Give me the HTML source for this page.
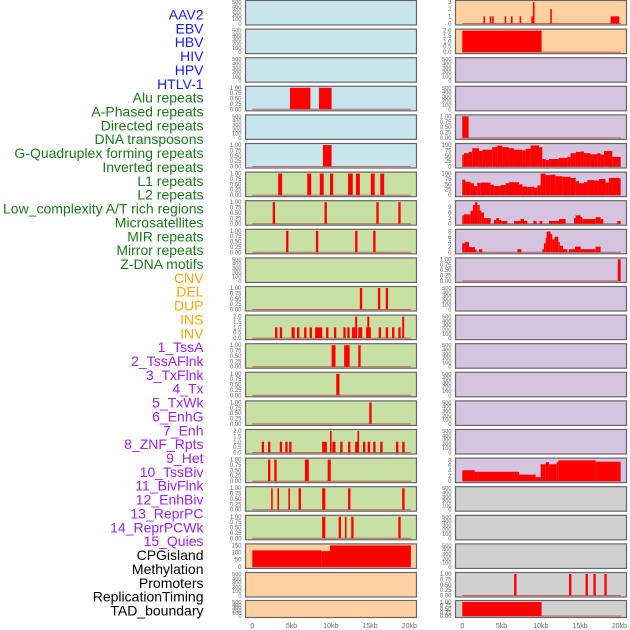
<!DOCTYPE html>
<html><head><meta charset="utf-8">
<style>
html,body{margin:0;padding:0;background:#fff;}
svg{display:block;font-family:"Liberation Sans",sans-serif;}
</style></head>
<body>
<svg id="chart" width="630" height="630" viewBox="0 0 630 630" xmlns="http://www.w3.org/2000/svg"></svg>
<script>
// ---- labels ----
const labelNames = ["AAV2","EBV","HBV","HIV","HPV","HTLV-1","Alu repeats","A-Phased repeats","Directed repeats","DNA transposons","G-Quadruplex forming repeats","Inverted repeats","L1 repeats","L2 repeats","Low_complexity A/T rich regions","Microsatellites","MIR repeats","Mirror repeats","Z-DNA motifs","CNV","DEL","DUP","INS","INV","1_TssA","2_TssAFlnk","3_TxFlnk","4_Tx","5_TxWk","6_EnhG","7_Enh","8_ZNF_Rpts","9_Het","10_TssBiv","11_BivFlnk","12_EnhBiv","13_ReprPC","14_ReprPCWk","15_Quies","CPGisland","Methylation","Promoters","ReplicationTiming","TAD_boundary"];
const labelGroups = [6,13,5,15,5];
const groupColors = ["#1a1aff","#1a7a1a","#ffa500","#a020f0","#000000"];
// tick labels
const xTickValues = [0,5,10,15,20];
const xTickLabels = ["0","5kb","10kb","15kb","20kb"];
const ticksEmpty = [0,100,200,300,400,500];
const ticks01 = [0,0.25,0.5,0.75,1];
const ticks02 = [0,0.5,1,1.5,2];
// ---- data (start kb, end kb, value) ----
const alu = [[4.8,7.4,1],[8.5,10.1,1]];
const gquad = [[9.0,10.1,1]];
const inverted = [[3.3,3.8,1],[7.0,7.5,1],[8.6,9.1,1],[9.9,10.3,1],[12.2,12.8,1],[13.2,13.7,1],[15.1,15.6,1],[16.3,16.8,1]];
const l2 = [[2.6,2.9,1],[9.2,9.5,1],[15.8,16.1,1],[18.6,18.9,1]];
const lowcx = [[4.3,4.6,1],[8.1,8.4,1],[13.1,13.4,1],[15.4,15.7,1]];
const mir = [[13.7,14.0,1],[16.0,16.3,1],[17.0,17.3,1]];
const mirror = [[2.9,3.2,1],[3.5,3.8,1],[5.0,5.4,1],[5.7,6.0,1],[6.6,6.9,1],[7.3,7.6,1],[8.0,8.9,1],[9.4,9.7,1],[10.4,10.7,1],[11.6,11.9,1],[12.1,12.4,1],[12.7,13.1,1],[13.1,13.35,2],[13.5,14.0,1],[14.5,15.1,1],[14.65,14.9,2],[16.1,16.4,1],[17.0,17.3,1],[17.8,18.1,1],[18.6,18.9,1],[19.1,19.35,2]];
const tssA = [[10.1,10.6,1],[11.7,12.4,1],[13.5,13.8,1]];
const tssAFlnk = [[10.7,11.1,1]];
const txFlnk = [[14.9,15.2,1]];
const tx = [[1.2,1.5,1],[2.0,2.3,1],[3.5,3.8,1],[4.2,4.5,1],[4.7,5.0,1],[8.9,9.5,1],[9.9,10.1,2],[10.2,10.6,1],[11.2,11.5,1],[12.2,12.5,1],[13.1,13.4,1],[13.4,13.6,2],[14.1,14.4,1],[14.7,15.0,1],[15.4,15.7,1],[16.3,16.6,1],[18.3,18.6,1],[19.1,19.4,1]];
const txWk = [[2.0,2.3,1],[2.8,3.1,1],[6.7,7.2,1],[9.6,10.0,1]];
const enhG = [[2.4,2.6,1],[3.2,3.4,1],[4.6,4.8,1],[5.9,6.2,1],[8.9,9.3,1],[12.2,12.5,1],[19.1,19.4,1]];
const enh = [[8.9,9.3,1],[11.0,11.3,1],[11.8,12.0,1],[12.6,12.9,1],[18.6,18.9,1]];
const cpg = [[0,8.8,115],[8.8,9.9,110],[9.9,20.2,150]];
const aav2 = [[2.7,2.9,1],[3.5,3.7,1],[3.8,4.0,1],[5.4,5.6,1],[6.2,6.4,1],[7.3,7.5,1],[8.8,9.0,1],[9.0,9.2,3],[11.2,11.4,2],[18.9,20.0,1]];
const ebv = [[0,10.1,2]];
const dnaTrans = [[0,0.8,1]];
const gquadR = [[0,0.2,55],[0.2,0.85,62],[0.85,1.27,68],[1.27,2.12,85],[2.12,2.55,72],[2.55,3.82,78],[3.82,4.46,90],[4.46,5.10,97],[5.10,5.94,90],[5.94,6.58,85],[6.58,7.64,78],[7.64,8.07,75],[8.07,8.70,82],[8.70,9.77,98],[9.77,10.19,90],[10.19,10.62,35],[10.62,11.04,30],[11.04,12.31,35],[12.31,13.38,40],[13.38,13.8,45],[13.8,14.44,62],[14.44,15.07,68],[15.07,15.5,70],[15.5,16.35,62],[16.35,17.2,57],[17.2,17.62,62],[17.62,18.05,55],[18.05,19.11,72],[19.11,20.17,45]];
const invertedR = [[0,0.4,72],[0.4,1.06,62],[1.06,1.49,55],[1.49,1.91,42],[1.91,2.34,57],[2.34,3.61,58],[3.61,4.03,48],[4.03,4.88,42],[4.88,5.52,47],[5.52,5.94,55],[5.94,7.22,60],[7.22,7.64,50],[7.64,8.28,40],[8.28,8.92,38],[8.92,9.13,40],[9.13,9.55,35],[9.55,9.98,45],[9.98,10.62,100],[10.62,11.25,93],[11.25,11.89,95],[11.89,12.74,88],[12.74,13.8,85],[13.8,14.44,80],[14.44,14.86,65],[14.86,15.5,55],[15.5,15.92,60],[15.92,16.77,70],[16.77,17.41,68],[17.41,18.26,75],[18.26,18.68,58],[18.68,19.96,80],[19.96,20.17,78]];
const l1R = [[0,0.2,4.5],[0.2,1.06,5],[1.06,1.36,7],[1.36,1.61,10],[1.61,1.91,11.5],[1.91,2.21,10],[2.21,2.42,7],[2.42,2.76,6],[2.76,3.61,3],[4.03,4.33,2],[4.33,4.67,3],[4.67,4.97,2],[4.97,5.73,1.5],[6.58,7.43,1.5],[7.43,7.86,2.5],[7.86,8.28,1.5],[9.04,9.47,1.5],[9.85,10.19,1.5],[11.04,12.31,1.5],[12.31,13.16,2.5],[14.23,14.44,3],[14.44,15.07,4.5],[15.07,15.29,3.5],[15.29,16.99,2.5],[16.99,17.62,3.5],[17.62,17.96,2.5],[19.75,20.17,1.5]];
const l2R = [[0,0.3,3.5],[0.3,0.85,4],[0.85,1.61,2],[1.61,1.83,1],[2.12,2.55,1.2],[7.01,7.52,1.2],[10.19,10.4,1.2],[10.4,10.62,3.5],[10.62,10.74,5.5],[10.74,11.25,8],[11.25,11.46,7],[11.46,11.76,5],[11.76,12.23,6],[12.23,12.4,4],[12.4,12.82,2.5],[12.82,13.38,1.2],[13.59,14.35,1.2],[14.35,15.07,2.2],[15.07,16.99,1.2],[16.99,17.62,2.2]];
const lowcxR = [[19.8,20.17,1]];
const hetR = [[0,1.57,4.2],[1.57,7.22,3.6],[7.22,9.34,2.5],[9.34,9.98,1.5],[9.98,10.62,6.5],[10.62,11.04,7.3],[11.04,12.02,6.5],[12.02,12.23,7.3],[12.23,16.99,8],[16.99,20.17,7.5]];
const promotersR = [[6.6,6.9,1],[13.6,13.9,1],[15.7,16.0,1],[16.7,17.0,1],[18.1,18.4,1]];
const tadR = [[0,10.1,1]];

const BLUE="#c8e4ec",GREEN="#c8e0a4",PEACH="#ffd0a0",LAV="#d4c4e0",GRAY="#d0d0d0";
const E=null;
const leftPanels = [
 [BLUE,E],[BLUE,E],[BLUE,E],[BLUE,alu,1],[BLUE,E],[BLUE,gquad,1],
 [GREEN,inverted,1],[GREEN,l2,1],[GREEN,lowcx,1],[GREEN,E],[GREEN,mir,1],[GREEN,mirror,2],
 [GREEN,tssA,1],[GREEN,tssAFlnk,1],[GREEN,txFlnk,1],[GREEN,tx,2],[GREEN,txWk,1],[GREEN,enhG,1],[GREEN,enh,1],
 [PEACH,cpg,150],[PEACH,E],[PEACH,E]];
const rightPanels = [
 [PEACH,aav2,3],[PEACH,ebv,2],[LAV,E],[LAV,E],[LAV,dnaTrans,1],[LAV,gquadR,100],[LAV,invertedR,100],
 [LAV,l1R,11.5],[LAV,l2R,8.3],[LAV,lowcxR,1],[LAV,E],[LAV,E],[LAV,E],[LAV,E],[LAV,E],[LAV,E],[LAV,hetR,8.3],
 [GRAY,E],[GRAY,E],[GRAY,E],[GRAY,promotersR,1],[GRAY,tadR,1]];
const panelNames = ["aav2","ebv","hbv","hiv","hpv","htlv1","alu","a-phased","directed","dna-transposons","g-quad","inverted","l1","l2","low-complexity","microsatellites","mir","mirror","z-dna","cnv","del","dup","ins","inv","tssa","tssaflnk","txflnk","tx","txwk","enhg","enh","znf","het","tssbiv","bivflnk","enhbiv","reprpc","reprpcwk","quies","cpgisland","methylation","promoters","replicationtiming","tad-boundary"];

const NS="http://www.w3.org/2000/svg";
const svg=document.getElementById('chart');
function mk(tag,attrs,parent){const e=document.createElementNS(NS,tag);for(const k in attrs)e.setAttribute(k,attrs[k]);(parent||svg).appendChild(e);return e;}

let li=0;
labelGroups.forEach((n,g)=>{for(let i=0;i<n;i++){
  const t=mk('text',{x:203.5,y:19.5+li*13.86,'text-anchor':'end','font-size':14,fill:groupColors[g]});
  t.textContent=labelNames[li];
  
  
  li++;}});

function ticksFor(ymax){
  if(ymax===3) return [[0,1,2,3],["0","1","2","3"]];
  if(ymax===2) return [ticks02,ticks02.map(v=>v.toFixed(1))];
  if(ymax===1) return [ticks01,ticks01.map(v=>v.toFixed(2))];
  if(ymax===150) return [[0,50,100,150],["0","50","100","150"]];
  if(ymax===100) return [[0,25,50,75,100],["0","25","50","75","100"]];
  if(ymax===11.5) return [[0,3,6,9],["0","3","6","9"]];
  if(ymax===8.3) return [[0,2,4,6,8],["0","2","4","6","8"]];
  return [[],[]];
}

function drawPanel(p,col,row){
  const x0=col===0?245.5:455.5, w=171;
  const top=row<21?0.5+row*28.6:600.5;
  const h=row<21?24.5:17;
  const zero=col===0?252.3:462.3, sc=7.85;
  const xs=kb=>zero+kb*sc;
  const idx=col===0?row:22+row;
  const g=mk('g',{});
  
  
  mk('rect',{x:x0,y:top,width:w,height:h,fill:p[0],stroke:'#666','stroke-width':1.2},g);
  const data=p[1];
  let ymax=p[2]||500;
  const y0=top+h-1.5, y1=top+1.5;
  const ys=v=>y0-(v/ymax)*(y0-y1);
  let tv,tl;
  if(!data){tv=ticksEmpty;tl=ticksEmpty.map(String);} else {[tv,tl]=ticksFor(ymax);}
  tv.forEach((v,i)=>{
    const t=mk('text',{x:x0-4,y:ys(v)+2,'text-anchor':'end','font-size':data?6:5.6,fill:'#666'},g);
    t.textContent=tl[i];
    
    
  });
  if(data){
    mk('line',{x1:xs(0),x2:xs(20.2),y1:y0,y2:y0,stroke:'rgba(190,50,50,0.7)','stroke-width':1},g);
    data.forEach(d=>{
      const r=mk('rect',{x:xs(d[0]),y:ys(d[2]),width:Math.max(1.5,xs(d[1])-xs(d[0])),height:y0-ys(d[2]),fill:'#ff0000'},g);
      
      
    });
  }
  if(row===21){
    xTickValues.forEach((v,i)=>{
      const t=mk('text',{x:xs(v),y:628,'text-anchor':'middle','font-size':7,fill:'#666'});
      t.textContent=xTickLabels[i];
      
      
    });
  }
}
leftPanels.forEach((p,i)=>drawPanel(p,0,i));
rightPanels.forEach((p,i)=>drawPanel(p,1,i));
</script>
</body></html>
